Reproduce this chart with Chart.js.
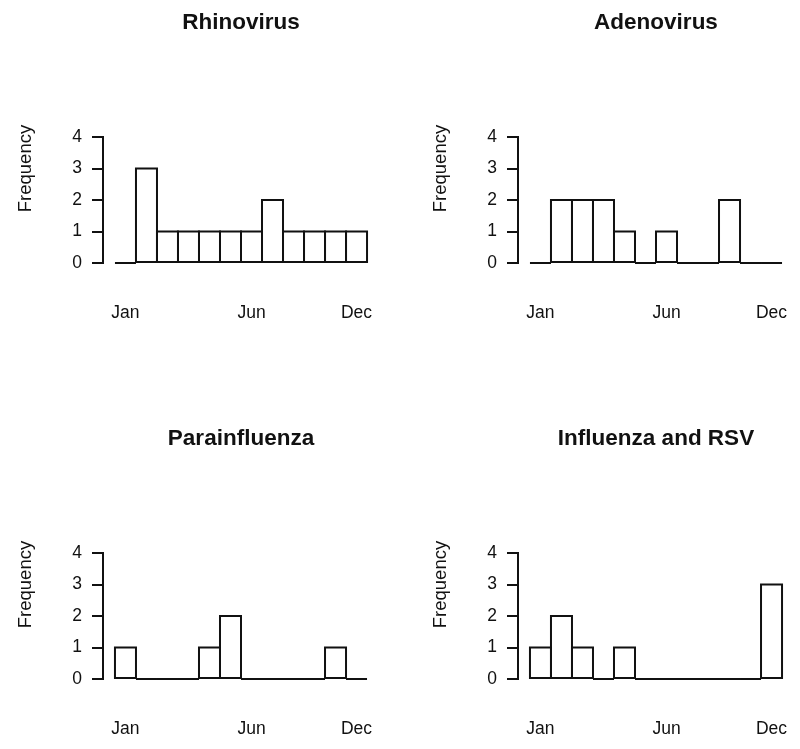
<!DOCTYPE html>
<html>
<head>
<meta charset="utf-8">
<script src="https://cdn.jsdelivr.net/npm/chart.js@4"></script>
<style>
  body { margin: 0; background: #fff; width: 800px; height: 749px; overflow: hidden; position: relative; }
  canvas { position: absolute; }
</style>
</head>
<body>
<canvas id="c1" width="400" height="330" style="left:0;top:0"></canvas>
<canvas id="c2" width="400" height="330" style="left:415px;top:0"></canvas>
<canvas id="c3" width="400" height="330" style="left:0;top:416px"></canvas>
<canvas id="c4" width="400" height="330" style="left:415px;top:416px"></canvas>
<script>
// monthly counts, Jan..Dec
const titles = ["Rhinovirus", "Adenovirus", "Parainfluenza", "Influenza and RSV"];
const rhinovirus = [0, 3, 1, 1, 1, 1, 1, 2, 1, 1, 1, 1];
const adenovirus = [0, 2, 2, 2, 1, 0, 1, 0, 0, 2, 0, 0];
const parainfluenza = [1, 0, 0, 0, 1, 2, 0, 0, 0, 0, 1, 0];
const influenzaRsv = [1, 2, 1, 0, 1, 0, 0, 0, 0, 0, 0, 3];
const monthLabels = ["Jan", "Jun", "Dec"];
const monthTicks = [0.5, 6.5, 11.5];
const yLabel = "Frequency";

Chart.defaults.font.family = '"Liberation Sans", Arial, sans-serif';
Chart.defaults.color = '#111';

// R-style open bars: stroke every bin, empty ones become the baseline
const outlinePlugin = {
    id: 'outline',
    afterDatasetsDraw(chart) {
        const ctx = chart.ctx;
        ctx.save();
        ctx.strokeStyle = '#111';
        ctx.lineWidth = 2;
        chart.getDatasetMeta(0).data.forEach((bar) => {
            const p = bar.getProps(['x', 'y', 'base', 'width'], true);
            ctx.strokeRect(p.x - p.width / 2, p.y, p.width, p.base - p.y);
        });
        ctx.restore();
    }
};

// y axis label sits higher than the axis middle, like in the original
const yLabelPlugin = {
    id: 'yLabel',
    afterDraw(chart) {
        const { ctx, scales: { y } } = chart;
        ctx.save();
        ctx.translate(y.left + 26, y.getPixelForValue(3));
        ctx.rotate(-Math.PI / 2);
        ctx.font = '18.5px "Liberation Sans", Arial, sans-serif';
        ctx.fillStyle = '#111';
        ctx.textAlign = 'center';
        ctx.textBaseline = 'middle';
        ctx.fillText(yLabel, 0, 0);
        ctx.restore();
    }
};

function makeHist(id, title, counts) {
    new Chart(document.getElementById(id), {
        type: 'bar',
        data: {
            datasets: [{
                data: counts.map((c, i) => ({ x: i + 0.5, y: c })),
                backgroundColor: '#fff',
                borderWidth: 0,
                barPercentage: 1,
                categoryPercentage: 1,
            }],
        },
        options: {
            responsive: false,
            animation: false,
            layout: { padding: { left: 0, right: 21, top: 0, bottom: 0 } },
            plugins: {
                legend: { display: false },
                tooltip: { enabled: false },
                title: {
                    display: true,
                    text: title,
                    fullSize: false,
                    font: { size: 22.5, weight: 'bold' },
                    color: '#111',
                    padding: { top: 9, bottom: 101 },
                },
            },
            scales: {
                x: {
                    type: 'linear',
                    min: -0.57,
                    max: 12.57,
                    offset: false,
                    grid: { display: false, offset: false },
                    border: { display: false },
                    afterBuildTicks: (s) => { s.ticks = monthTicks.map((v) => ({ value: v })); },
                    afterFit: (s) => {
                        s.height = 67;
                        s.paddingLeft = 0;
                        s.paddingRight = 0;
                    },
                    ticks: {
                        autoSkip: false,
                        maxRotation: 0,
                        padding: 32,
                        font: { size: 17.5 },
                        callback: (v, i) => monthLabels[i],
                    },
                },
                y: {
                    min: 0,
                    max: 4,
                    afterFit: (s) => { s.width = 103; },
                    grid: {
                        drawOnChartArea: false,
                        tickLength: 11,
                        color: '#111',
                        lineWidth: 2,
                    },
                    border: { display: true, color: '#111', width: 2 },
                    ticks: { stepSize: 1, padding: 10, font: { size: 17.5 } },
                },
            },
        },
        plugins: [outlinePlugin, yLabelPlugin],
    });
}

makeHist('c1', titles[0], rhinovirus);
makeHist('c2', titles[1], adenovirus);
makeHist('c3', titles[2], parainfluenza);
makeHist('c4', titles[3], influenzaRsv);
</script>
</body>
</html>
